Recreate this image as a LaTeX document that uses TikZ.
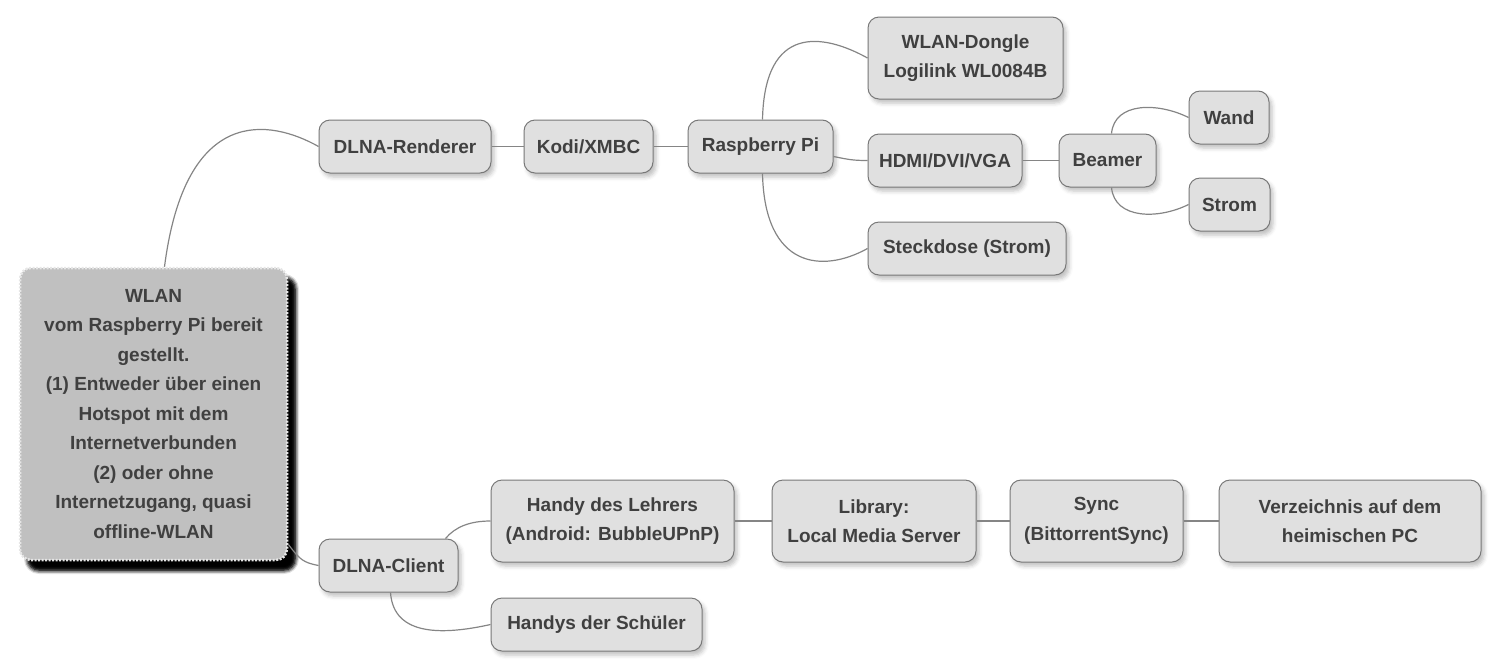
\documentclass[tikz,border=0pt]{standalone}
\usepackage{fontspec}
\setmainfont{Liberation Sans}
\usetikzlibrary{calc, shadows.blur}

\definecolor{topicfill}{HTML}{E0E0E0}
\definecolor{topicline}{HTML}{787878}
\definecolor{topictext}{HTML}{404040}
\definecolor{rootfill}{HTML}{C0C0C0}
\definecolor{rootline}{HTML}{E6E6E6}
\definecolor{branchline}{HTML}{858585}

\begin{document}
\begin{tikzpicture}[x=1pt, y=-1pt,
    topic/.style={draw=topicline, line width=1pt, fill=topicfill, rounded corners=11pt,
        text=topictext, font=\bfseries\fontsize{19}{29.5}\selectfont, align=center,
        minimum height=53pt, inner sep=0pt,
        blur shadow={shadow xshift=3pt, shadow yshift=-4pt, shadow opacity=25, shadow blur radius=4pt}},
    rootbox/.style={topic, fill=rootfill, draw=rootline, line width=2.5pt, dash pattern=on 2pt off 1.5pt,
        blur shadow={shadow xshift=8pt, shadow yshift=-10pt, shadow opacity=100, shadow blur radius=4pt}},
    branch/.style={draw=branchline, line width=1.2pt}]

    % page frame, pixel units, y going down
    \useasboundingbox (0,0) rectangle (1501,670);

    % root of the map
    \node[rootbox, minimum width=267pt, minimum height=292pt] (root) at (153.5,414)
        {WLAN\\vom Raspberry Pi bereit\\gestellt.\\(1) Entweder über einen\\Hotspot mit dem\\Internetverbunden\\(2) oder ohne\\Internetzugang, quasi\\offline-WLAN};

    % upper branch: renderer
    \node[topic, minimum width=172pt] (renderer) at (405,146.5) {DLNA-Renderer};
    \node[topic, minimum width=129pt] (kodi) at (588.5,146.5) {Kodi/XMBC};
    \node[topic, minimum width=145pt] (rpi) at (760.5,146.5) {Raspberry Pi};
    \node[topic, minimum width=195pt, minimum height=82pt] (dongle) at (965.5,58) {WLAN-Dongle\\Logilink WL0084B};
    \node[topic, minimum width=154pt] (hdmi) at (945,160.5) {HDMI/DVI/VGA};
    \node[topic, minimum width=97pt] (beamer) at (1107.5,160.5) {Beamer};
    \node[topic, minimum width=80pt] (wand) at (1229,117.5) {Wand};
    \node[topic, minimum width=81pt] (strom) at (1229.5,204.5) {Strom};
    \node[topic, minimum width=198pt] (steckdose) at (967,248.5) {Steckdose (Strom)};

    % lower branch: client
    \node[topic, minimum width=139pt] (client) at (388.5,565.5) {DLNA-Client};
    \node[topic, minimum width=243pt, minimum height=82pt] (lehrer) at (612.5,521) {Handy des Lehrers\\(Android: BubbleUPnP)};
    \node[topic, minimum width=211pt] (schueler) at (596.5,624.5) {Handys der Schüler};
    \node[topic, minimum width=204pt, minimum height=82pt] (library) at (874,521) {Library:\\Local Media Server};
    \node[topic, minimum width=173pt, minimum height=82pt] (sync) at (1096.5,521) {Sync\\(BittorrentSync)};
    \node[topic, minimum width=262pt, minimum height=82pt] (verz) at (1350,521) {Verzeichnis auf dem\\heimischen PC};

    % curved branches
    \draw[branch] ($(root.north)+(11,0)$) .. controls +(21,-163) and +(-48,-27) .. (renderer.west);
    \draw[branch] ($(root.south east)+(0,-17)$) .. controls +(12,16) and +(-15,-3) .. (client.west);
    \draw[branch] ($(rpi.north)+(2,0)$) .. controls +(2,-95) and +(-45,-25) .. (dongle.west);
    \draw[branch] ($(rpi.east)+(0,10)$) .. controls +(15,3) and +(-15,0) .. (hdmi.west);
    \draw[branch] ($(rpi.south)+(2,0)$) .. controls +(2,95) and +(-45,25) .. (steckdose.west);
    \draw[branch] ($(beamer.north)+(4,0)$) .. controls +(3,-32) and +(-30,-15) .. (wand.west);
    \draw[branch] ($(beamer.south)+(4,0)$) .. controls +(3,32) and +(-30,15) .. (strom.west);
    \draw[branch] ($(client.north east)+(-13,0)$) .. controls +(10,-12) and +(-20,0) .. (lehrer.west);
    \draw[branch] ($(client.south)+(2,0)$) .. controls +(3,45) and +(-45,10) .. (schueler.west);

    % straight branches
    \draw[branch] (renderer) -- (kodi);
    \draw[branch] (kodi) -- (rpi);
    \draw[branch] (hdmi) -- (beamer);
    \draw[branch] (lehrer) -- (library);
    \draw[branch] (library) -- (sync);
    \draw[branch] (sync) -- (verz);

\end{tikzpicture}
\end{document}
